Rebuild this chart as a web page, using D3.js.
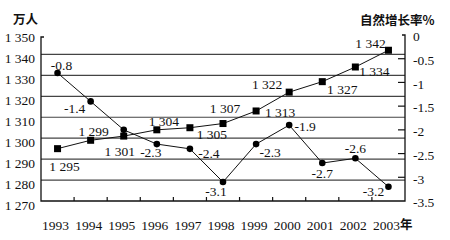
<!DOCTYPE html>
<html lang="zh">
<head>
    <meta charset="UTF-8">
    <title>人口与自然增长率</title>
    <script src="https://cdn.jsdelivr.net/npm/d3@7"></script>
    <style>
        body { margin: 0; background: #fff; }
        text { font-family: "Liberation Serif", "DejaVu Serif", serif; font-size: 13.5px; fill: #111; }
        .cjk { font-family: "Noto Sans CJK SC", sans-serif; font-weight: bold; font-size: 12.5px; }
    </style>
</head>
<body>
<div id="chart"></div>
<script>
    const years = ["1993", "1994", "1995", "1996", "1997", "1998", "1999", "2000", "2001", "2002", "2003"]
    const population = [1295, 1299, 1301, 1304, 1305, 1307, 1313, 1322, 1327, 1334, 1342]
    const growthRate = [-0.8, -1.4, -2.0, -2.3, -2.4, -3.1, -2.3, -1.9, -2.7, -2.6, -3.2]
    const rateLabelShown = [true, true, false, true, true, true, true, true, true, true, true]
    const leftTicks = [1270, 1280, 1290, 1300, 1310, 1320, 1330, 1340, 1350]
    const rightTicks = [0, -0.5, -1, -1.5, -2, -2.5, -3, -3.5]

    // label offsets (dx, dy) from each point
    const popLabelOffset = [[7, 18], [3, -9], [-4, 15], [7, -9], [22, 7], [2, -15], [24, 1], [-22, -8], [20, 8], [19, 4], [-18, -7]]
    const rateLabelOffset = [[4, -8], [-16, 7], [0, 0], [-6, 8], [19, 4], [-7, 9], [14, 8], [16, 1], [0, 10], [0, -10], [-15, 5]]

    const width = 450
    const height = 240
    const mLeft = 41, mRight = 405, mTop = 33.5, mBottom = 201

    const svg = d3.select("#chart")
        .append("svg")
        .attr("width", width)
        .attr("height", height)

    const x = d3.scaleBand().domain(years).range([mLeft, mRight])
    const yL = d3.scaleLinear().domain([1270, 1350]).range([mBottom, mTop])
    const yR = d3.scaleLinear().domain([-3.5, 0]).range([mBottom, 35])
    const cx = d => x(d) + x.bandwidth() / 2
    const fmt = v => d3.format(",")(v).replace(",", " ")

    // gridlines
    svg.append("g").selectAll("line")
        .data(leftTicks.filter(d => d > 1270 && d < 1350))
        .enter().append("line")
        .attr("x1", mLeft).attr("x2", mRight)
        .attr("y1", d => yL(d)).attr("y2", d => yL(d))
        .attr("stroke", "#444").attr("stroke-width", 1.2)

    // left tick labels
    svg.append("g").selectAll("text")
        .data(leftTicks)
        .enter().append("text")
        .attr("x", 35)
        .attr("y", d => yL(d) + 4)
        .attr("dy", "0.35em")
        .attr("text-anchor", "end")
        .text(d => fmt(d))

    // right axis ticks + labels
    svg.append("g").selectAll("line")
        .data(rightTicks.filter(d => d < 0 && d > -3.5))
        .enter().append("line")
        .attr("x1", mRight - 7).attr("x2", mRight)
        .attr("y1", d => yR(d)).attr("y2", d => yR(d))
        .attr("stroke", "#111").attr("stroke-width", 1.2)

    svg.append("g").selectAll("text")
        .data(rightTicks)
        .enter().append("text")
        .attr("x", 413)
        .attr("y", d => yR(d) + 1.5)
        .attr("dy", "0.35em")
        .text(d => d)

    // frame: left, right, bottom axes and top corners
    const frame = svg.append("g").attr("stroke", "#111").attr("stroke-width", 1.3).attr("fill", "none")
    frame.append("path").attr("d", `M${mLeft + 3},37 H${mLeft} V${mBottom} H${mRight} V35 H${mRight - 3}`)

    // x ticks between categories
    svg.append("g").selectAll("line")
        .data(years.slice(1))
        .enter().append("line")
        .attr("x1", d => x(d)).attr("x2", d => x(d))
        .attr("y1", mBottom - 4).attr("y2", mBottom)
        .attr("stroke", "#111").attr("stroke-width", 1.2)

    // year labels
    svg.append("g").selectAll("text")
        .data(years)
        .enter().append("text")
        .attr("x", d => cx(d) - 2)
        .attr("y", 225)
        .attr("dy", "0.35em")
        .attr("text-anchor", "middle")
        .text(d => d)
    svg.append("text").attr("class", "cjk")
        .attr("x", cx(years[years.length - 1]) + 11.5)
        .attr("y", 224.5)
        .attr("dy", "0.35em")
        .text("年")

    // unit titles
    svg.append("text").attr("class", "cjk")
        .attr("x", 13).attr("y", 20).attr("dy", "0.35em")
        .text("万人")
    svg.append("text").attr("class", "cjk")
        .attr("x", 360).attr("y", 21).attr("dy", "0.35em")
        .text("自然增长率%")

    // population line
    const popLine = d3.line().x((d, i) => cx(years[i])).y(d => yL(d))
    svg.append("path")
        .attr("d", popLine(population))
        .attr("fill", "none").attr("stroke", "#111").attr("stroke-width", 1)
    svg.append("g").selectAll("rect")
        .data(population)
        .enter().append("rect")
        .attr("x", (d, i) => cx(years[i]) - 3.5)
        .attr("y", d => yL(d) - 3.5)
        .attr("width", 7).attr("height", 7)
        .attr("fill", "#000")

    // growth rate line
    const rateLine = d3.line().x((d, i) => cx(years[i])).y(d => yR(d))
    svg.append("path")
        .attr("d", rateLine(growthRate))
        .attr("fill", "none").attr("stroke", "#111").attr("stroke-width", 1)
    svg.append("g").selectAll("circle")
        .data(growthRate)
        .enter().append("circle")
        .attr("cx", (d, i) => cx(years[i]))
        .attr("cy", d => yR(d))
        .attr("r", 3.3)
        .attr("fill", "#000")

    // value labels
    svg.append("g").selectAll("text")
        .data(population)
        .enter().append("text")
        .attr("x", (d, i) => cx(years[i]) + popLabelOffset[i][0])
        .attr("y", (d, i) => yL(d) + popLabelOffset[i][1])
        .attr("dy", "0.35em")
        .attr("text-anchor", "middle")
        .text(d => fmt(d))

    svg.append("g").selectAll("text")
        .data(growthRate.map((v, i) => ({v, i})).filter(d => rateLabelShown[d.i]))
        .enter().append("text")
        .attr("x", d => cx(years[d.i]) + rateLabelOffset[d.i][0])
        .attr("y", d => yR(d.v) + rateLabelOffset[d.i][1])
        .attr("dy", "0.35em")
        .attr("text-anchor", "middle")
        .text(d => d.v.toFixed(1))
</script>
</body>
</html>
